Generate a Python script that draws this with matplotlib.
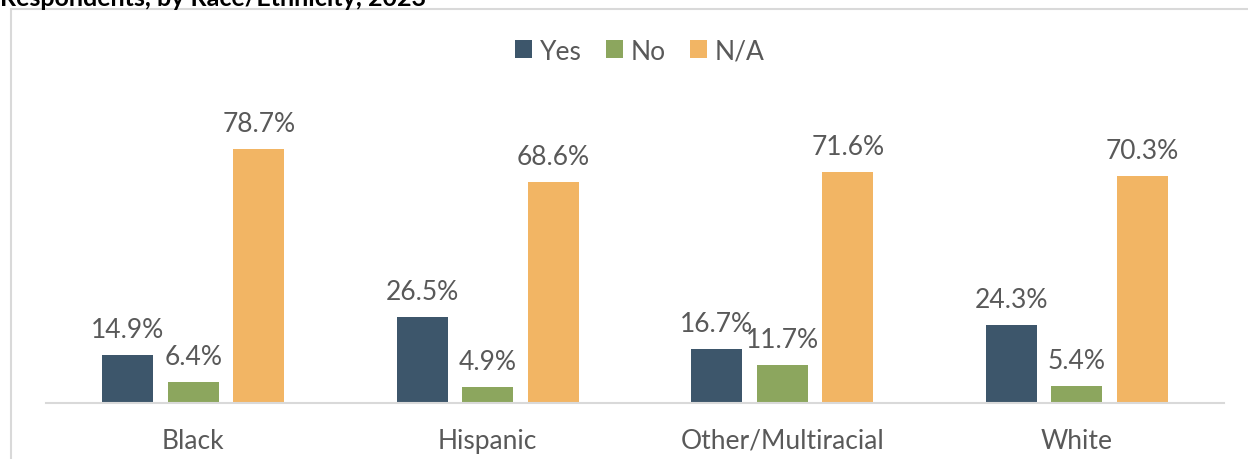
import matplotlib
matplotlib.use("Agg")
import matplotlib.pyplot as plt
from matplotlib.patches import Rectangle
import numpy as np

# Data
categories = ["Black", "Hispanic", "Other/Multiracial", "White"]
yes_vals = [14.9, 26.5, 16.7, 24.3]
no_vals = [6.4, 4.9, 11.7, 5.4]
na_vals = [78.7, 68.6, 71.6, 70.3]
series_names = ["Yes", "No", "N/A"]
colors = ["#3D566B", "#8CA65E", "#F2B564"]

plt.rcParams['font.family'] = ['Lato', 'DejaVu Sans']
text_color = "#595959"

fig = plt.figure(figsize=(12.48, 4.6), dpi=100)
ax = fig.add_axes([46 / 1248, 56 / 460, 1178 / 1248, 290.5 / 460])

x = np.arange(len(categories))
width = 0.173
pitch = 0.2224
for i, (vals, name, c) in enumerate(zip([yes_vals, no_vals, na_vals], series_names, colors)):
    bars = ax.bar(x + (i - 1) * pitch, vals, width, color=c, label=name)
    for b, v in zip(bars, vals):
        ax.annotate(f"{v:.1f}%", (b.get_x() + b.get_width() / 2, v),
                    xytext=(0, 13), textcoords='offset points',
                    ha='center', va='baseline', fontsize=19, color=text_color)

ax.set_xlim(-0.5, len(categories) - 0.5)
ax.set_ylim(0, 90)
ax.set_xticks(x)
ax.set_xticklabels(categories, fontsize=19, color=text_color)
ax.tick_params(axis='x', length=0, pad=18)
ax.set_yticks([])
for s in ['top', 'right', 'left']:
    ax.spines[s].set_visible(False)
ax.spines['bottom'].set_color("#D9D9D9")
ax.spines['bottom'].set_linewidth(1.5)

# Legend
leg = ax.legend(loc='center', bbox_to_anchor=(640 / 1248, 1 - 52 / 460),
                bbox_transform=fig.transFigure, ncol=3, frameon=False,
                fontsize=19, handlelength=0.65, handleheight=0.65,
                handletextpad=0.3, columnspacing=0.9)
for t in leg.get_texts():
    t.set_color(text_color)

# Chart border
fig.patches.append(Rectangle((11 / 1248, 0 - 0.05), 1.2, 1 - 10 / 460 + 0.05,
                             transform=fig.transFigure, fill=False,
                             edgecolor="#D9D9D9", linewidth=1.5))

# Title (cut off at top in the reference)
fig.text(0.0, 1 - 6 / 460, "Respondents, by Race/Ethnicity, 2023",
         fontsize=18, fontweight='bold', color="#000000", va='baseline', ha='left')

fig.savefig("out.png", dpi=100)
